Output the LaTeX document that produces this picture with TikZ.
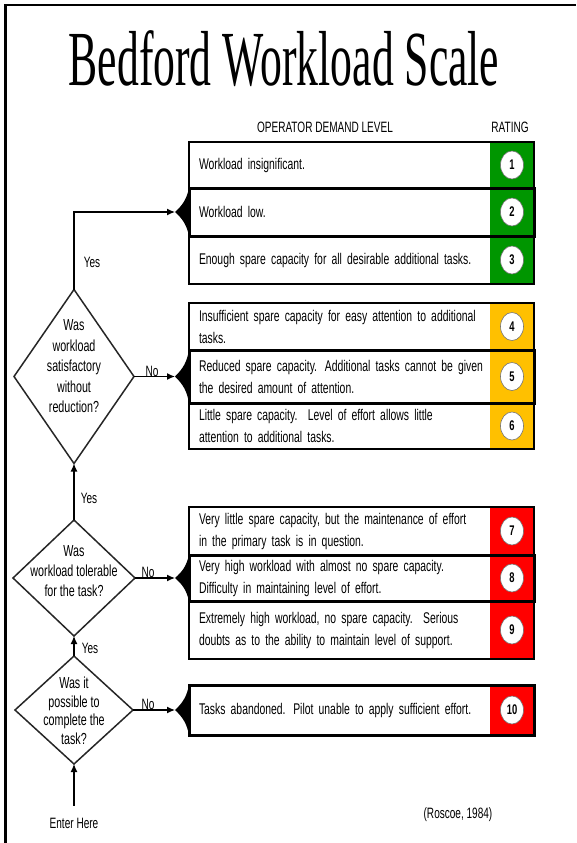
\documentclass[tikz,border=0pt]{standalone}
\usepackage{fontspec}
\setmainfont{Liberation Sans}
\newfontfamily\nsans{Liberation Sans}[FakeStretch=0.67]
\newfontfamily\tserif{Liberation Serif}[FakeStretch=0.56]
\usetikzlibrary{shapes.geometric,arrows.meta,backgrounds}
\definecolor{bgreen}{RGB}{0,150,0}
\definecolor{byellow}{RGB}{255,192,0}
\definecolor{bred}{RGB}{255,0,0}
\tikzset{
  rowbox/.style={draw, line width=1.6pt, anchor=north west, text width=325pt,
    inner xsep=10pt, inner ysep=0pt, align=left, outer sep=0pt,
    font=\nsans\fontsize{15.5}{22}\selectfont},
  midrow/.style={rowbox, line width=3pt},
  rnum/.style={ellipse, fill=white, draw=black!55, line width=0.6pt,
    minimum width=23pt, minimum height=28pt, inner sep=0pt,
    font=\nsans\bfseries\fontsize{14}{15}\selectfont},
  decision/.style={diamond, draw=black!85, line width=1.5pt, inner sep=0pt, outer sep=0pt},
  dtext/.style={align=center, inner sep=0pt, font=\nsans\fontsize{16}{20}\selectfont},
  lbl/.style={inner sep=1pt, font=\nsans\fontsize{15}{16}\selectfont},
  arr/.style={line width=1.3pt, -{Latex[length=8pt,width=7pt]}},
  notch/.style={fill=black},
  rfill/.style={fill=#1},
}
\begin{document}
\begin{tikzpicture}[x=1pt,y=-1pt]
\useasboundingbox (0,0) rectangle (576,843);
\draw[line width=2.5pt] (5.5,843) -- (5.5,5) -- (576,5);

% title and headers
\node[anchor=base, inner sep=0pt] (title) at (284,85)
  {\tserif\fontsize{78}{80}\selectfont Bedford Workload Scale};
\node[lbl] (hdr) at (325,127) {OPERATOR DEMAND LEVEL};
\node[lbl] (hrat) at (510,127) {RATING};

% rows
\node[rowbox, minimum height=46pt] (r1) at (189,142) {Workload insignificant.};
\node[midrow, minimum height=48pt] (r2) at (189,188) {Workload low.};
\node[rowbox, minimum height=48pt] (r3) at (189,236) {Enough spare capacity for all desirable additional tasks.};

\node[rowbox, minimum height=47pt] (r4) at (189,303) {Insufficient spare capacity for easy attention to additional\\tasks.};
\node[midrow, minimum height=53pt] (r5) at (189,350) {Reduced spare capacity. Additional tasks cannot be given\\the desired amount of attention.};
\node[rowbox, minimum height=46pt] (r6) at (189,403) {Little spare capacity.\ \ Level of effort allows little\\attention to additional tasks.};

\node[rowbox, minimum height=48pt] (r7) at (189,507) {Very little spare capacity, but the maintenance of effort\\in the primary task is in question.};
\node[midrow, minimum height=46pt] (r8) at (189,555) {Very high workload with almost no spare capacity.\\Difficulty in maintaining level of effort.};
\node[rowbox, minimum height=58pt] (r9) at (189,601) {Extremely high workload, no spare capacity.\ \ Serious\\doubts as to the ability to maintain level of support.};

\node[midrow, minimum height=50pt] (r10) at (189,685) {Tasks abandoned. Pilot unable to apply sufficient effort.};

% rating colour fills
\begin{scope}[on background layer]
  \foreach \r/\c in {r1/bgreen,r2/bgreen,r3/bgreen,r4/byellow,r5/byellow,r6/byellow,r7/bred,r8/bred,r9/bred,r10/bred}
    \fill[rfill=\c] ([xshift=-44pt]\r.north east) rectangle (\r.south east);
\end{scope}

% rating numbers
\foreach \r/\n in {r1/1,r2/2,r3/3,r4/4,r5/5,r6/6,r7/7,r8/8,r9/9,r10/10}
  \node[rnum] (n\n) at ([xshift=-22pt]\r.east) {\n};

% notches
\foreach \r in {r2,r5,r8,r10}{
  \coordinate (t\r) at ([xshift=-14pt]\r.west);
  \fill[notch] (\r.north west) to[bend left=18] (t\r) to[bend left=18] (\r.south west) -- cycle;
}

% decisions
\node[decision, minimum width=120pt, minimum height=174pt] (d1) at (74,376.5) {};
\node[dtext, font=\nsans\fontsize{16}{20.5}\selectfont] (d1t) at ([yshift=10pt]d1.center) {Was\\workload\\satisfactory\\without\\reduction?};
\node[decision, minimum width=122pt, minimum height=116pt] (d2) at (74,578) {};
\node[dtext] (d2t) at ([yshift=7pt]d2.center) {Was\\workload tolerable\\for the task?};
\node[decision, minimum width=118pt, minimum height=108pt] (d3) at (74,710) {};
\node[dtext, font=\nsans\fontsize{16}{18.5}\selectfont] (d3t) at ([yshift=-1pt]d3.center) {Was it\\possible to\\complete the\\task?};

\node[lbl] (enter) at (74,823) {Enter Here};
\node[lbl] (src) at (458,815) {(Roscoe, 1984)};

% connectors
\draw[arr] (d1.north) |- (tr2);
\draw[arr] (d1.east) -- (tr5);
\draw[arr] (d2.east) -- (tr8);
\draw[arr] (d3.east) -- (tr10);
\draw[arr] (d2.north) -- (d1.south);
\draw[arr] (d3.north) -- (d2.south);
\draw[arr] ([yshift=11pt]enter.north) -- (d3.south);

% labels
\node[lbl] (y1) at (92,262) {Yes};
\node[lbl] (y2) at (89,498) {Yes};
\node[lbl] (y3) at (90,648) {Yes};
\node[lbl, anchor=base] (no1) at (152,376) {No};
\node[lbl, anchor=base] (no2) at (148,577) {No};
\node[lbl, anchor=base] (no3) at (148,709) {No};
\end{tikzpicture}
\end{document}
